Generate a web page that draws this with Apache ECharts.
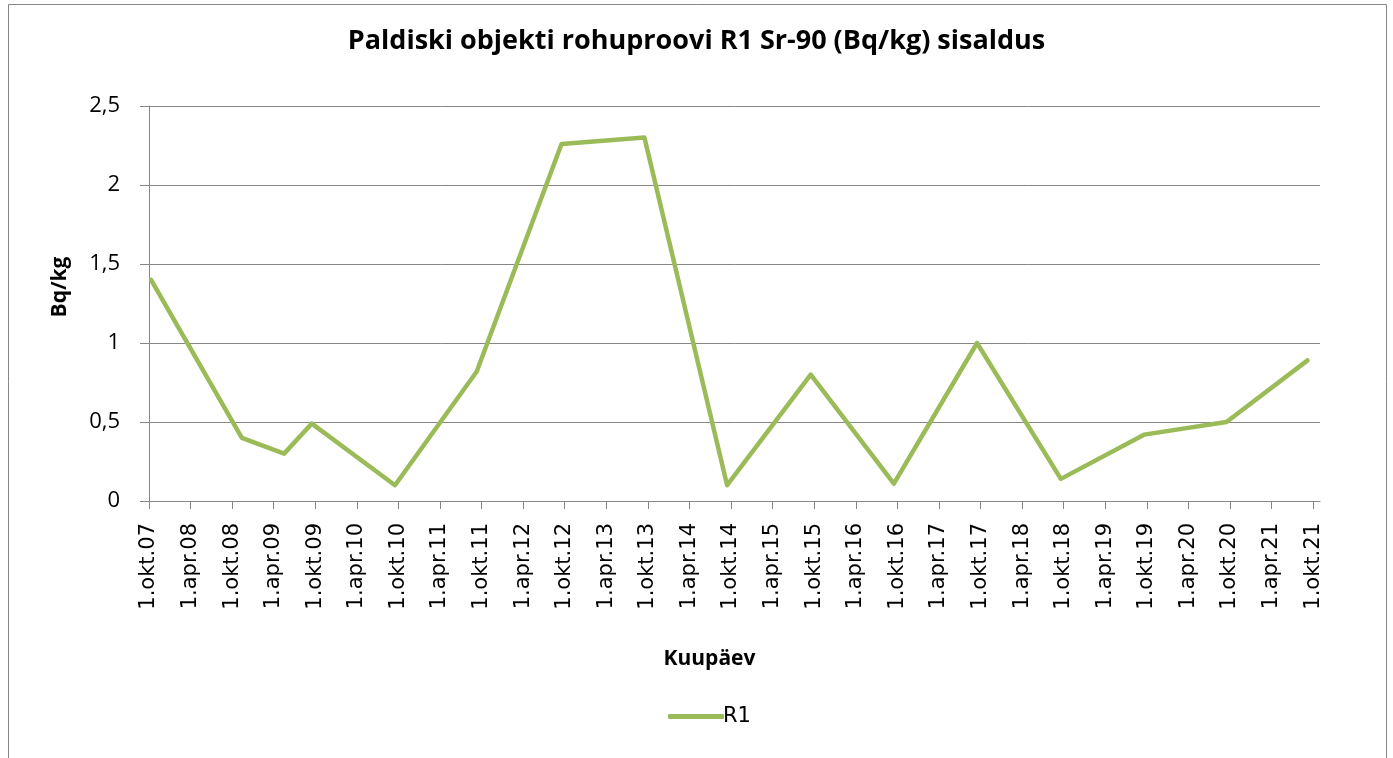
<!DOCTYPE html>
<html>
<head>
<meta charset="utf-8">
<script src="https://cdn.jsdelivr.net/npm/echarts@6/dist/echarts.min.js"></script>
<style>
html,body{margin:0;padding:0;background:#fff;}
#c{width:1393px;height:758px;}
</style>
</head>
<body>
<div id="c"></div>
<script>
// Sampling dates and Sr-90 values (Bq/kg)
const sampleDates = ['2007-10-10','2008-11-13','2009-05-16','2009-09-16','2010-09-16','2011-09-10','2012-09-17','2013-09-16','2014-09-14','2015-09-16','2016-09-16','2017-09-16','2018-09-19','2019-09-19','2020-09-16','2021-09-07'];
const r1Values = [1.4, 0.4, 0.3, 0.49, 0.1, 0.82, 2.26, 2.3, 0.1, 0.8, 0.11, 1.0, 0.14, 0.42, 0.5, 0.89];
const xTickLabels = ['1.okt.07','1.apr.08','1.okt.08','1.apr.09','1.okt.09','1.apr.10','1.okt.10','1.apr.11','1.okt.11','1.apr.12','1.okt.12','1.apr.13','1.okt.13','1.apr.14','1.okt.14','1.apr.15','1.okt.15','1.apr.16','1.okt.16','1.apr.17','1.okt.17','1.apr.18','1.okt.18','1.apr.19','1.okt.19','1.apr.20','1.okt.20','1.apr.21','1.okt.21'];
const seriesName = 'R1';
const titleText = 'Paldiski objekti rohuproovi R1 Sr-90 (Bq/kg) sisaldus';
const yAxisTitle = 'Bq/kg';
const xAxisTitle = 'Kuupäev';

// months since 1 Oct 2007
function monthOffset(s){
  const p = s.split('-').map(Number);
  return (p[0]-2007)*12 + (p[1]-10) + (p[2]-1)/30;
}
const data = sampleDates.map((d,i)=>[monthOffset(d), r1Values[i]]);
const xTickValues = xTickLabels.map((_,i)=>i*6);

const chart = echarts.init(document.getElementById('c'), null, {renderer:'canvas'});
const gray = '#868686';
chart.setOption({
  backgroundColor:'#fff',
  animation:false,
  title:{
    text:titleText, left:'center', top:23,
    textStyle:{fontFamily:'Open Sans', fontWeight:'bold', fontSize:27, color:'#000'}
  },
  graphic:[{
    type:'rect', shape:{x:8.5,y:4.5,width:1378,height:800},
    style:{fill:null, stroke:gray, lineWidth:1}, silent:true
  },{
    type:'text', x:60, y:287, rotation:Math.PI/2, silent:true,
    style:{text:yAxisTitle, fontFamily:'Open Sans', fontWeight:'bold', fontSize:21, fill:'#000', align:'center', verticalAlign:'middle'}
  }],
  legend:{
    left:663, top:701, itemWidth:56, itemHeight:5, itemGap:10,
    data:[{name:seriesName, icon:'roundRect'}],
    textStyle:{fontFamily:'DejaVu Sans', fontSize:21, color:'#000', padding:[0,0,0,-6]}
  },
  grid:{left:149, right:73, top:106, bottom:257, containLabel:false},
  xAxis:{
    type:'value', min:0, max:169,
    name:xAxisTitle, nameLocation:'middle', nameGap:148,
    nameTextStyle:{fontFamily:'Open Sans', fontWeight:'bold', fontSize:21, color:'#000', padding:[0,50,0,0]},
    axisLine:{lineStyle:{color:gray, width:1}},
    axisTick:{show:true, length:8, lineStyle:{color:gray}, customValues:xTickValues},
    axisLabel:{
      customValues:xTickValues, rotate:90, margin:22,
      fontFamily:'DejaVu Sans', fontSize:21, color:'#000',
      formatter:v=>{const i=Math.round(v/6); return (Math.abs(v-i*6)<1e-6 && xTickLabels[i])||'';}
    },
    splitLine:{show:false}
  },
  yAxis:{
    type:'value', min:0, max:2.5, interval:0.5,
    axisLine:{show:true, lineStyle:{color:gray, width:1}},
    axisTick:{show:true, length:9, lineStyle:{color:gray}},
    axisLabel:{margin:29, fontFamily:'Open Sans', fontSize:22, color:'#000',
      formatter:v=>String(v).replace('.',',')},
    splitLine:{show:true, lineStyle:{color:gray, width:1}}
  },
  series:[{
    name:seriesName, type:'line', data:data, showSymbol:false, symbol:'none',
    lineStyle:{color:'#9BBB59', width:4.5, cap:'round', join:'round'},
    itemStyle:{color:'#9BBB59'}
  }]
});
</script>
</body>
</html>
